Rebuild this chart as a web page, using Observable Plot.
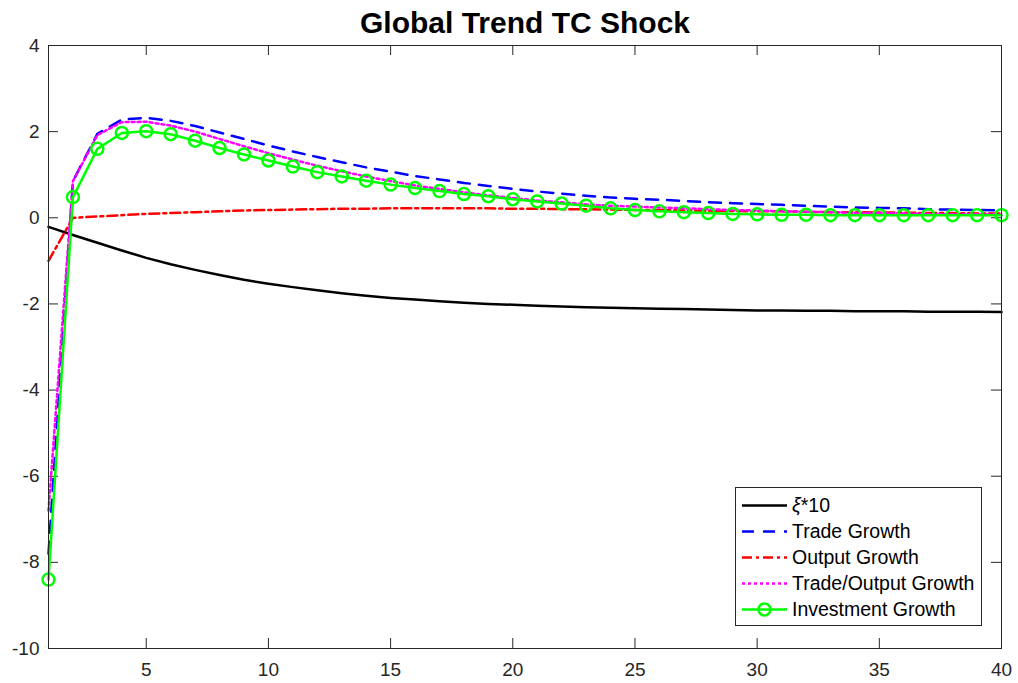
<!DOCTYPE html>
<html><head><meta charset="utf-8">
<script src="https://cdn.jsdelivr.net/npm/d3@7"></script>
<script src="https://cdn.jsdelivr.net/npm/@observablehq/plot@0.6"></script>
<style>
body{margin:0;background:#fff;font-family:"Liberation Sans",Arial,Helvetica,sans-serif;}
#wrap{position:relative;width:1018px;height:683px;overflow:hidden;}
#legend{position:absolute;left:735px;top:487px;}
</style></head><body><div id="wrap"></div>
<script>
const title = "Global Trend TC Shock";
const periods = [1,2,3,4,5,6,7,8,9,10,11,12,13,14,15,16,17,18,19,20,21,22,23,24,25,26,27,28,29,30,31,32,33,34,35,36,37,38,39,40];
const xiTimes10 = [-0.21,-0.40,-0.58,-0.76,-0.93,-1.08,-1.21,-1.33,-1.44,-1.53,-1.61,-1.68,-1.75,-1.81,-1.86,-1.90,-1.94,-1.97,-2.00,-2.02,-2.04,-2.06,-2.08,-2.09,-2.10,-2.11,-2.12,-2.13,-2.14,-2.15,-2.15,-2.16,-2.16,-2.17,-2.17,-2.17,-2.18,-2.18,-2.18,-2.19];
const tradeGrowth = [-7.8,0.85,1.95,2.28,2.32,2.25,2.13,1.98,1.83,1.68,1.54,1.41,1.29,1.17,1.07,0.97,0.89,0.81,0.74,0.67,0.61,0.56,0.51,0.47,0.44,0.42,0.39,0.36,0.34,0.32,0.30,0.28,0.26,0.24,0.23,0.22,0.20,0.19,0.18,0.17];
const outputGrowth = [-1.0,0.0,0.03,0.06,0.09,0.11,0.13,0.15,0.17,0.18,0.19,0.20,0.21,0.21,0.22,0.22,0.22,0.22,0.22,0.21,0.21,0.20,0.20,0.19,0.18,0.18,0.17,0.16,0.16,0.15,0.15,0.14,0.13,0.13,0.12,0.12,0.11,0.11,0.10,0.10];
const tradeOutputGrowth = [-6.8,0.85,1.92,2.22,2.23,2.14,2.00,1.83,1.66,1.50,1.35,1.21,1.08,0.96,0.85,0.75,0.67,0.59,0.52,0.46,0.40,0.36,0.31,0.28,0.26,0.24,0.22,0.20,0.18,0.17,0.15,0.14,0.13,0.11,0.11,0.10,0.09,0.08,0.08,0.07];
const investmentGrowth = [-8.4,0.48,1.60,1.97,2.01,1.94,1.79,1.62,1.47,1.33,1.19,1.06,0.96,0.86,0.77,0.69,0.62,0.55,0.50,0.43,0.38,0.33,0.28,0.22,0.18,0.15,0.13,0.11,0.09,0.08,0.07,0.07,0.06,0.06,0.06,0.06,0.06,0.06,0.06,0.06];
const xTicks = [5,10,15,20,25,30,35,40];
const yTicks = [-10,-8,-6,-4,-2,0,2,4];

const seriesInfo = [
  {key:"xi", label:"ξ*10", values:xiTimes10, color:"#000000", dash:null},
  {key:"trade", label:"Trade Growth", values:tradeGrowth, color:"#0000ff", dash:"12,9"},
  {key:"output", label:"Output Growth", values:outputGrowth, color:"#ff0000", dash:"10,4,3,4"},
  {key:"tro", label:"Trade/Output Growth", values:tradeOutputGrowth, color:"#ff00ff", dash:"3,3"},
  {key:"inv", label:"Investment Growth", values:investmentGrowth, color:"#00ff00", dash:null, marker:true}
];

const W = 1018, H = 683, mL = 48, mR = 17, mT = 45, mB = 35;
const innerW = W - mL - mR, innerH = H - mT - mB;
const tickLen = 10;
const LW = 2.5;
const fmt = d => String(d);

const lineMarks = seriesInfo.map(s => {
  const d = s.values.map((v, i) => ({x: periods[i], y: v}));
  return Plot.line(d, {x:"x", y:"y", stroke:s.color, strokeWidth:LW, strokeDasharray:s.dash || undefined, strokeLinejoin:"round"});
});
const invData = investmentGrowth.map((v, i) => ({x: periods[i], y: v}));

const chart = Plot.plot({
  width: W, height: H,
  marginLeft: mL, marginRight: mR, marginTop: mT, marginBottom: mB,
  style: {color: "#262626", background: "#fff", fontFamily: '"Liberation Sans", Arial, sans-serif', overflow: "visible"},
  x: {domain: [1, 40], label: null},
  y: {domain: [-10, 4], label: null},
  marks: [
    Plot.ruleX(xTicks, {stroke: "#262626", strokeWidth: 1, insetTop: innerH - tickLen}),
    Plot.ruleX(xTicks, {stroke: "#262626", strokeWidth: 1, insetBottom: innerH - tickLen}),
    Plot.ruleY(yTicks, {stroke: "#262626", strokeWidth: 1, insetRight: innerW - tickLen}),
    Plot.ruleY(yTicks, {stroke: "#262626", strokeWidth: 1, insetLeft: innerW - tickLen}),
    Plot.axisX(xTicks, {tickSize: 0, tickPadding: 14, fontSize: 19, fill: "#262626", tickFormat: fmt}),
    Plot.axisY(yTicks, {tickSize: 0, tickPadding: 9, fontSize: 19, fill: "#262626", tickFormat: fmt}),
    ...lineMarks,
    Plot.dot(invData, {x:"x", y:"y", r:6, stroke:"#00ff00", strokeWidth:LW, fill:"none"}),
    Plot.frame({stroke: "#262626", strokeWidth: 1}),
    Plot.text([title], {frameAnchor: "top", dy: -22, lineAnchor: "middle", fontSize: 30, fontWeight: "bold", fill: "#000", text: d => d})
  ]
});
const wrap = document.getElementById("wrap");
wrap.appendChild(chart);

// Legend overlay
const NS = "http://www.w3.org/2000/svg";
const lg = document.createElementNS(NS, "svg");
lg.setAttribute("id", "legend");
lg.setAttribute("width", 250);
lg.setAttribute("height", 140);
const box = document.createElementNS(NS, "rect");
box.setAttribute("x", 0.5); box.setAttribute("y", 0.5);
box.setAttribute("width", 246); box.setAttribute("height", 138);
box.setAttribute("fill", "#fff"); box.setAttribute("stroke", "#262626"); box.setAttribute("stroke-width", 1);
lg.appendChild(box);
seriesInfo.forEach((s, i) => {
  const cy = 18.5 + i * 26;
  const ln = document.createElementNS(NS, "line");
  ln.setAttribute("x1", 7); ln.setAttribute("x2", 52);
  ln.setAttribute("y1", cy); ln.setAttribute("y2", cy);
  ln.setAttribute("stroke", s.color); ln.setAttribute("stroke-width", LW);
  if (s.dash) ln.setAttribute("stroke-dasharray", s.dash);
  lg.appendChild(ln);
  if (s.marker) {
    const c = document.createElementNS(NS, "circle");
    c.setAttribute("cx", 29.5); c.setAttribute("cy", cy); c.setAttribute("r", 6);
    c.setAttribute("fill", "none"); c.setAttribute("stroke", s.color); c.setAttribute("stroke-width", LW);
    lg.appendChild(c);
  }
  const t = document.createElementNS(NS, "text");
  t.setAttribute("x", 57); t.setAttribute("y", cy);
  t.setAttribute("dy", "0.35em");
  t.setAttribute("font-size", 19.5);
  t.setAttribute("font-family", '"Liberation Sans", Arial, sans-serif');
  t.setAttribute("fill", "#000");
  if (s.key === "xi") {
    const ts = document.createElementNS(NS, "tspan");
    ts.setAttribute("font-style", "italic");
    ts.textContent = "ξ";
    t.appendChild(ts);
    t.appendChild(document.createTextNode("*10"));
  } else {
    t.textContent = s.label;
  }
  lg.appendChild(t);
});
wrap.appendChild(lg);
</script>
</body></html>
